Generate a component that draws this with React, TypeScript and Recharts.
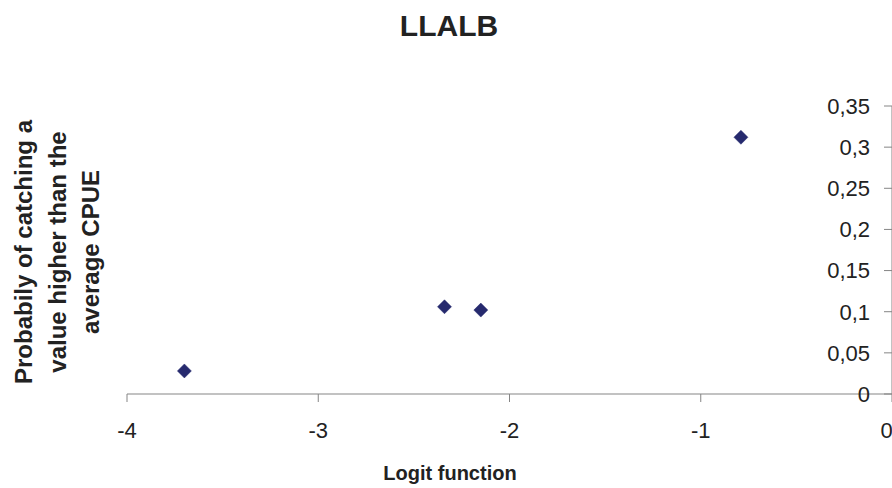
import React from "react";
import { ScatterChart, Scatter, XAxis, YAxis } from "recharts";

const logitValues = [-3.7, -2.34, -2.15, -0.79];
const probabilityValues = [0.028, 0.106, 0.102, 0.312];
const xTicks = [-4, -3, -2, -1, 0];
const yTicks = [0, 0.05, 0.1, 0.15, 0.2, 0.25, 0.3, 0.35];
const titleText = "LLALB";
const xLabelText = "Logit function";
const yLabelLines = ["Probabily of catching a", "value higher than the", "average CPUE"];

const data = logitValues.map((x, i) => ({ x, y: probabilityValues[i] }));

const FONT = "'Liberation Sans', Arial, Helvetica, sans-serif";
const AXIS_COLOR = "#858585";
const MARKER = "#262a6e";

const Diamond = (props: any) => {
  const { cx, cy } = props;
  const r = 7;
  return (
    <polygon
      points={`${cx},${cy - r} ${cx + r},${cy} ${cx},${cy + r} ${cx - r},${cy}`}
      fill={MARKER}
      stroke={MARKER}
      strokeWidth={0.5}
    />
  );
};

const fmt = (v: number) => String(Number(v.toFixed(2))).replace(".", ",");

export default function App() {
  return (
    <div style={{ position: "fixed", left: 0, top: 0, width: 892, height: 488, background: "#fff", fontFamily: FONT }}>
      <ScatterChart width={892} height={488} margin={{ top: 106, right: 0, bottom: 0, left: 127 }}>
        <XAxis
          type="number"
          dataKey="x"
          domain={[-4, 0]}
          ticks={xTicks}
          allowDataOverflow
          height={94}
          stroke={AXIS_COLOR}
          tickSize={8}
          tickMargin={20}
          tick={{ fontSize: 22, fill: "#222", fontFamily: FONT }}
        />
        <YAxis
          type="number"
          dataKey="y"
          orientation="right"
          mirror
          width={7}
          domain={[0, 0.35]}
          ticks={yTicks}
          allowDataOverflow
          stroke={AXIS_COLOR}
          tickSize={8}
          tickMargin={14}
          tickFormatter={fmt}
          tick={{ fontSize: 22, fill: "#222", fontFamily: FONT }}
        />
        <Scatter data={data} shape={Diamond} isAnimationActive={false} />
      </ScatterChart>
      <svg width={892} height={488} style={{ position: "absolute", left: 0, top: 0, pointerEvents: "none" }}>
        <text x={449} y={36} textAnchor="middle" fontSize={30} fontWeight="bold" fill="#222" fontFamily={FONT}>
          {titleText}
        </text>
        <text x={450} y={480} textAnchor="middle" fontSize={20} fontWeight="bold" fill="#222" fontFamily={FONT}>
          {xLabelText}
        </text>
        {yLabelLines.map((line, i) => (
          <text
            key={i}
            transform={`translate(${32 + i * 33.5}, 252) rotate(-90)`}
            textAnchor="middle"
            fontSize={24}
            fontWeight="bold"
            fill="#222"
            fontFamily={FONT}
          >
            {line}
          </text>
        ))}
      </svg>
    </div>
  );
}
